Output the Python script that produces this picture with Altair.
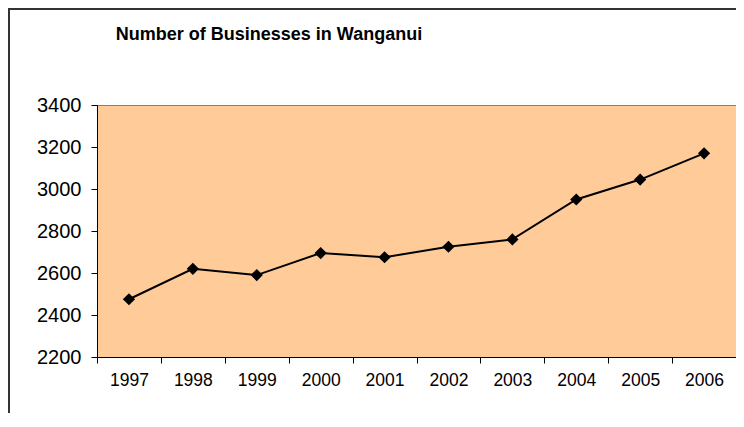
import altair as alt
import pandas as pd

years = ["1997", "1998", "1999", "2000", "2001", "2002", "2003", "2004", "2005", "2006"]
businesses = [2475, 2620, 2590, 2695, 2675, 2725, 2760, 2950, 3045, 3170]
y_ticks = [2200, 2400, 2600, 2800, 3000, 3200, 3400]
title_text = "Number of Businesses in Wanganui"

df = pd.DataFrame({"year": years, "count": businesses})
title_df = pd.DataFrame({"t": [title_text]})

SANS = "Liberation Sans, Arial, sans-serif"

x_enc = alt.X(
    "year:O",
    sort=years,
    scale=alt.Scale(paddingInner=0, paddingOuter=0),
    axis=alt.Axis(
        title=None, labelAngle=0, tickBand="extent", tickSize=6,
        labelPadding=8, labelFont=SANS, labelFontSize=17.5,
        labelColor="black", domainColor="black", tickColor="black",
        grid=False,
    ),
)
y_enc = alt.Y(
    "count:Q",
    scale=alt.Scale(domain=[2200, 3400], nice=False, zero=False),
    axis=alt.Axis(
        title=None, values=y_ticks, format="d", tickSize=6, labelPadding=10,
        labelFont=SANS, labelFontSize=20, labelColor="black",
        domainColor="black", tickColor="black", grid=False,
    ),
)

line = alt.Chart(df).mark_line(color="black", strokeWidth=2).encode(x=x_enc, y=y_enc)
points = alt.Chart(df).mark_point(
    shape="diamond", filled=True, color="black", size=150, opacity=1
).encode(x=x_enc, y=y_enc)

border = alt.Chart(df).mark_rect(
    fill=None, stroke="#333333", strokeWidth=2
).encode(
    x=alt.value(-88), x2=alt.value(900), y=alt.value(-96), y2=alt.value(600)
)

title = alt.Chart(title_df).mark_text(
    font=SANS, fontSize=18, fontWeight="bold", color="black",
    align="center", baseline="alphabetic",
).encode(
    x=alt.value(172), y=alt.value(-65), text="t:N"
)

chart = alt.layer(border, line, points, title).properties(
    width=639,
    height=252,
    padding={"left": 89, "top": 97, "right": 0, "bottom": 56},
    autosize=alt.AutoSizeParams(type="none"),
).configure(
    background="white"
).configure_view(
    fill="#FFCC99", stroke="#808080", strokeWidth=1
)

chart.save("out.html", embed_options={"renderer": "svg", "actions": False})
